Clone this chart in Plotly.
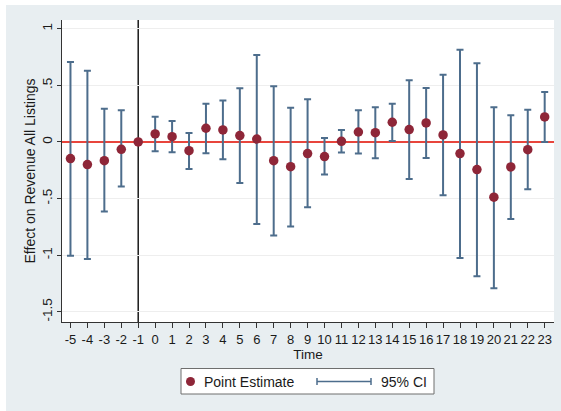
import math
import plotly.graph_objects as go

# Event-time coefficients with 95% confidence bounds (t = -1 is the omitted period)
time = list(range(-5, 24))
estimate = [-0.147, -0.200, -0.165, -0.065, 0.000, 0.071, 0.047, -0.077, 0.121, 0.106,
            0.056, 0.026, -0.165, -0.218, -0.103, -0.129, 0.006, 0.088, 0.082, 0.174,
            0.109, 0.168, 0.062, -0.103, -0.244, -0.488, -0.221, -0.068, 0.221]
ci_upper = [0.706, 0.629, 0.294, 0.280, None, 0.223, 0.185, 0.079, 0.338, 0.365,
            0.474, 0.768, 0.491, 0.303, 0.377, 0.035, 0.106, 0.280, 0.306, 0.338,
            0.544, 0.477, 0.594, 0.815, 0.694, 0.306, 0.235, 0.285, 0.441]
ci_lower = [-1.006, -1.033, -0.615, -0.394, None, -0.082, -0.091, -0.238, -0.100, -0.153,
            -0.362, -0.724, -0.827, -0.747, -0.576, -0.288, -0.094, -0.103, -0.144, 0.009,
            -0.327, -0.141, -0.471, -1.024, -1.185, -1.291, -0.680, -0.418, 0.000]

y_tickvals = [1, 0.5, 0, -0.5, -1, -1.5]
y_ticktext = ["1", ".5", "0", "-.5", "-1", "-1.5"]
reference_period = -1

err_plus = [math.nan if u is None else u - e for u, e in zip(ci_upper, estimate)]
err_minus = [math.nan if l is None else e - l for l, e in zip(ci_lower, estimate)]

POINT_COLOR = "#8e2638"
CI_COLOR = "#4d6d8c"
ZERO_COLOR = "#e8453c"
BG = "#e8eef1"
FONT = "Liberation Sans, Arial, Helvetica, sans-serif"

fig = go.Figure()
fig.add_trace(go.Scatter(
    x=time, y=estimate, mode="markers", name="Point Estimate",
    marker=dict(color=POINT_COLOR, size=9.5, line=dict(width=0)),
    error_y=dict(type="data", symmetric=False, array=err_plus, arrayminus=err_minus,
                 color=CI_COLOR, thickness=2, width=3.5),
    showlegend=False,
))

# vertical reference line at the omitted period
fig.add_shape(type="line", xref="x", yref="paper", x0=reference_period, x1=reference_period,
              y0=0, y1=1, line=dict(color="#1a1a1a", width=1.5), layer="below")

# white strips along the top and left edges of the canvas
W, H, L, T, B, R = 561, 411, 62, 20, 89, 7
pw, ph = W - L - R, H - T - B


def px(xp):
    return (xp - L) / pw


def py(yp):
    return (H - B - yp) / ph


fig.add_shape(type="rect", xref="paper", yref="paper", x0=px(0), x1=px(W), y0=py(0), y1=py(5),
              fillcolor="white", line=dict(width=0), layer="below")
fig.add_shape(type="rect", xref="paper", yref="paper", x0=px(0), x1=px(6), y0=py(0), y1=py(H),
              fillcolor="white", line=dict(width=0), layer="below")

# legend box
fig.add_shape(type="rect", xref="paper", yref="paper", x0=px(181), x1=px(434), y0=py(368.5), y1=py(394),
              fillcolor="white", line=dict(color="#6e6e6e", width=1))
ly = py(381.5)
fig.add_shape(type="circle", xref="paper", yref="paper", xsizemode="pixel", ysizemode="pixel",
              xanchor=px(190.5), yanchor=ly, x0=-4.5, x1=4.5, y0=-4.5, y1=4.5,
              fillcolor=POINT_COLOR, line=dict(width=0))
fig.add_shape(type="line", xref="paper", yref="paper", x0=px(317), x1=px(371), y0=ly, y1=ly,
              line=dict(color=CI_COLOR, width=1.5))
for cx in (317, 371):
    fig.add_shape(type="line", xref="paper", yref="paper", xsizemode="pixel", ysizemode="pixel",
                  xanchor=px(cx), yanchor=ly, x0=0, x1=0, y0=-3.5, y1=3.5,
                  line=dict(color=CI_COLOR, width=1.5))
fig.add_annotation(xref="paper", yref="paper", x=px(202), y=ly, xanchor="left", yanchor="middle",
                   text="Point Estimate", showarrow=False, font=dict(size=14, color="#1a1a1a", family=FONT))
fig.add_annotation(xref="paper", yref="paper", x=px(379), y=ly, xanchor="left", yanchor="middle",
                   text="95% CI", showarrow=False, font=dict(size=14, color="#1a1a1a", family=FONT))

fig.update_layout(
    width=W, height=H,
    margin=dict(l=L, r=R, t=T, b=B),
    paper_bgcolor=BG, plot_bgcolor="white",
    font=dict(family=FONT, size=13, color="#1a1a1a"),
    showlegend=False,
    xaxis=dict(
        range=[-5.5, 23.55], tickmode="array", tickvals=time, ticktext=[str(t) for t in time],
        tickangle=0, ticks="outside", ticklen=5, tickwidth=1, tickcolor="#333",
        showline=True, linecolor="#333", linewidth=1, mirror=False,
        showgrid=False, zeroline=False,
        tickfont=dict(size=13), title=dict(text="Time", font=dict(size=13.5), standoff=2),
    ),
    yaxis=dict(
        range=[-1.59, 1.077], tickmode="array", tickvals=y_tickvals, ticktext=y_ticktext,
        tickangle=-90, ticks="outside", ticklen=4, tickwidth=1, tickcolor="#333",
        showline=True, linecolor="#333", linewidth=1,
        showgrid=True, gridcolor="#eeeeee", gridwidth=1,
        zeroline=True, zerolinecolor=ZERO_COLOR, zerolinewidth=2,
        tickfont=dict(size=13.5),
        title=dict(text="Effect on Revenue All Listings", font=dict(size=14), standoff=0),
    ),
)

fig.write_html("out.html")
